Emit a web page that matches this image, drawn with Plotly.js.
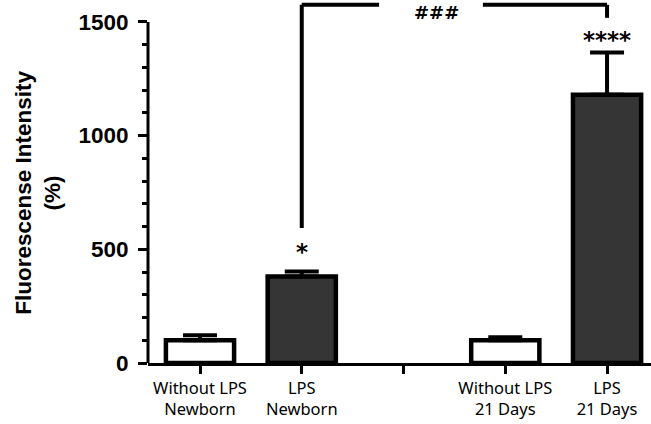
<!DOCTYPE html>
<html>
<head>
<meta charset="utf-8">
<script src="https://cdn.plot.ly/plotly-3.0.1.min.js"></script>
<style>html,body{margin:0;padding:0;background:#fff;}#chart{width:651px;height:424px;}</style>
</head>
<body>
<div id="chart"></div>
<script>
// ---- data ----
const tickPositions = [0, 1, 2, 3, 4];
const tickLabels = ['Without LPS<br>Newborn', 'LPS<br>Newborn', '', 'Without LPS<br>21 Days', 'LPS<br>21 Days'];
const barPositions = [0, 1, 3, 4];
const means = [100, 380, 100, 1180];
const errors = [22, 22, 13, 185];
const barFills = ['#ffffff', '#353535', '#ffffff', '#353535'];
const sigLabels = ['*', '****'];
const sigPositions = [1, 4];
const sigValues = [488, 1421];
const bracketEnds = [1, 4];
const bracketTop = 1575;
const bracketLeftBottom = 594;
const bracketRightBottom = 1518;
const bracketGap = [1.76, 2.78];
const bracketLabel = '###';
const bracketLabelX = 2.32;
const bracketLabelY = 1540;
const majorTicks = [0, 500, 1000, 1500];
const minorTicks = [100, 200, 300, 400, 600, 700, 800, 900, 1100, 1200, 1300, 1400];

const trace = {
  type: 'bar',
  x: barPositions,
  y: means,
  width: 0.67,
  marker: {color: barFills, line: {color: '#000', width: 4.5}},
  error_y: {type: 'data', array: errors, arrayminus: errors.map(() => 0), symmetric: false,
            color: '#000', thickness: 4, width: 17},
  hoverinfo: 'none'
};

const shapes = [
  // y axis line (ends at 1500)
  {type: 'line', xref: 'paper', yref: 'y', x0: 0, x1: 0, y0: 0, y1: 1500, line: {color: '#000', width: 3}},
  // bracket
  {type: 'line', xref: 'x', yref: 'y', x0: bracketEnds[0], x1: bracketEnds[0], y0: bracketLeftBottom, y1: bracketTop, line: {color: '#000', width: 4}},
  {type: 'line', xref: 'x', yref: 'y', x0: bracketEnds[0], x1: bracketGap[0], y0: bracketTop, y1: bracketTop, line: {color: '#000', width: 4}},
  {type: 'line', xref: 'x', yref: 'y', x0: bracketGap[1], x1: bracketEnds[1], y0: bracketTop, y1: bracketTop, line: {color: '#000', width: 4}},
  {type: 'line', xref: 'x', yref: 'y', x0: bracketEnds[1], x1: bracketEnds[1], y0: bracketRightBottom, y1: bracketTop, line: {color: '#000', width: 4}}
];

const annotations = [
  {text: 'Fluorescense Intensity<br>(%)', xref: 'paper', yref: 'paper', x: -0.2187, y: 0.47,
   xanchor: 'center', yanchor: 'middle', textangle: -90, showarrow: false,
   font: {family: 'Liberation Sans, Arial, sans-serif', size: 22.5, color: '#000', weight: 'bold'}},
  {text: bracketLabel, xref: 'x', yref: 'y', x: bracketLabelX, y: bracketLabelY, xanchor: 'center', yanchor: 'middle',
   showarrow: false, borderpad: 0, font: {family: 'DejaVu Sans, sans-serif', size: 18, color: '#000', weight: 'bold'}}
];
sigLabels.forEach((t, i) => annotations.push({
  text: t, xref: 'x', yref: 'y', x: sigPositions[i], y: sigValues[i], xanchor: 'center', yanchor: 'middle',
  showarrow: false, font: {family: 'DejaVu Sans, sans-serif', size: 23, color: '#000', weight: 'bold'}
}));

const layout = {
  width: 651, height: 424,
  margin: {l: 148, r: 0, t: 1, b: 61, pad: 0},
  paper_bgcolor: '#fff', plot_bgcolor: '#fff',
  showlegend: false,
  xaxis: {
    range: [-0.511, 4.432], tickmode: 'array', tickvals: tickPositions, ticktext: tickLabels,
    showline: true, linecolor: '#000', linewidth: 3, ticks: 'outside', ticklen: 8, tickwidth: 3, tickcolor: '#000',
    showgrid: false, zeroline: false, fixedrange: true, ticklabelstandoff: 0,
    tickfont: {family: 'Noto Sans, sans-serif', size: 16.5, color: '#000'}
  },
  yaxis: {
    range: [0, 1592], tickmode: 'array', tickvals: majorTicks,
    showline: false, ticks: 'outside', ticklen: 9, tickwidth: 3, tickcolor: '#000',
    minor: {tickmode: 'array', tickvals: minorTicks, ticks: 'outside', ticklen: 5, tickwidth: 3, tickcolor: '#000', showgrid: false},
    showgrid: false, zeroline: false, fixedrange: true, ticklabelstandoff: 5,
    tickfont: {family: 'Liberation Sans, Arial, sans-serif', size: 22.5, color: '#000', weight: 'bold'}
  },
  shapes: shapes,
  annotations: annotations
};

Plotly.newPlot('chart', [trace], layout, {displayModeBar: false, staticPlot: true});
</script>
</body>
</html>
